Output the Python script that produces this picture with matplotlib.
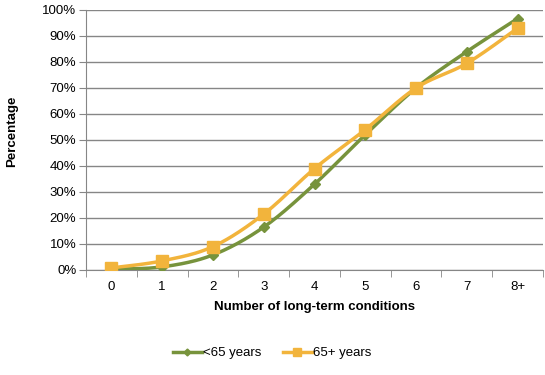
import numpy as np
import matplotlib
matplotlib.use("Agg")
import matplotlib.pyplot as plt
from matplotlib.ticker import FuncFormatter
from matplotlib.lines import Line2D

categories = ["0", "1", "2", "3", "4", "5", "6", "7", "8+"]
under65 = [0.3, 1.2, 5.8, 16.5, 33.0, 52.0, 70.0, 84.0, 96.7]
over65 = [0.8, 3.5, 9.0, 21.5, 39.0, 54.0, 70.0, 79.5, 93.0]
y_ticks = list(range(0, 101, 10))

plt.rcParams['font.family'] = ['Liberation Sans', 'DejaVu Sans']

def smooth(xs, ys, n=30):
    xs = np.asarray(xs, float); ys = np.asarray(ys, float)
    px = np.concatenate([[xs[0]], xs, [xs[-1]]])
    py = np.concatenate([[ys[0]], ys, [ys[-1]]])
    outx, outy = [], []
    t = np.linspace(0, 1, n)
    for i in range(1, len(px) - 2):
        p0 = np.array([px[i], py[i]]); p3 = np.array([px[i+1], py[i+1]])
        p1 = p0 + (np.array([px[i+1], py[i+1]]) - np.array([px[i-1], py[i-1]])) / 6
        p2 = p3 - (np.array([px[i+2], py[i+2]]) - np.array([px[i], py[i]])) / 6
        b = ((1-t)**3)[:, None]*p0 + (3*(1-t)**2*t)[:, None]*p1 + (3*(1-t)*t**2)[:, None]*p2 + (t**3)[:, None]*p3
        outx.extend(b[:, 0]); outy.extend(b[:, 1])
    return outx, outy

fig = plt.figure(figsize=(5.45, 3.75), dpi=100)
ax = fig.add_axes([86/545, 1-270/375, (543-86)/545, 260/375])
x = np.arange(len(categories))
green = "#77933C"
orange = "#F2B43C"

handles = []
for vals, col, mk, ms, lab in [(under65, green, "D", 5, "<65 years"), (over65, orange, "s", 8, "65+ years")]:
    sx, sy = smooth(x, vals)
    ax.plot(sx, sy, color=col, lw=2.5, zorder=3)
    ax.plot(x, vals, ls="none", marker=mk, ms=ms, color=col, zorder=4)
    handles.append(Line2D([], [], color=col, lw=2.5, marker=mk, ms=ms*0.7, label=lab))

ax.set_xlim(-0.5, len(categories) - 0.5)
ax.set_ylim(0, 100)
ax.set_yticks(y_ticks)
ax.yaxis.set_major_formatter(FuncFormatter(lambda v, p: f"{int(v)}%"))
ax.set_xticks(x)
ax.set_xticklabels(categories)
ax.set_xticks(np.arange(-0.5, len(categories)), minor=True)
ax.tick_params(axis="x", which="major", length=0, pad=8, labelsize=9.5)
ax.tick_params(axis="x", which="minor", length=5, color="#868686")
ax.tick_params(axis="y", length=5, color="#868686", labelsize=9.5, pad=2)
ax.grid(axis="y", color="#868686", lw=1)
ax.set_axisbelow(True)
for s in ["top", "right"]:
    ax.spines[s].set_visible(False)
for s in ["left", "bottom"]:
    ax.spines[s].set_color("#868686")

ax.set_xlabel("Number of long-term conditions", fontweight="bold", fontsize=9.5, labelpad=6)
fig.text(12/545, 1-131/375, "Percentage", rotation=90, fontweight="bold", fontsize=9.5, ha="center", va="center")
fig.legend(handles=handles, loc="center", bbox_to_anchor=(272/545, 1-353/375), ncol=2, frameon=False, fontsize=9.5,
           handlelength=2.2, columnspacing=1.6, handletextpad=0.1)
fig.savefig("out.png", dpi=100)
